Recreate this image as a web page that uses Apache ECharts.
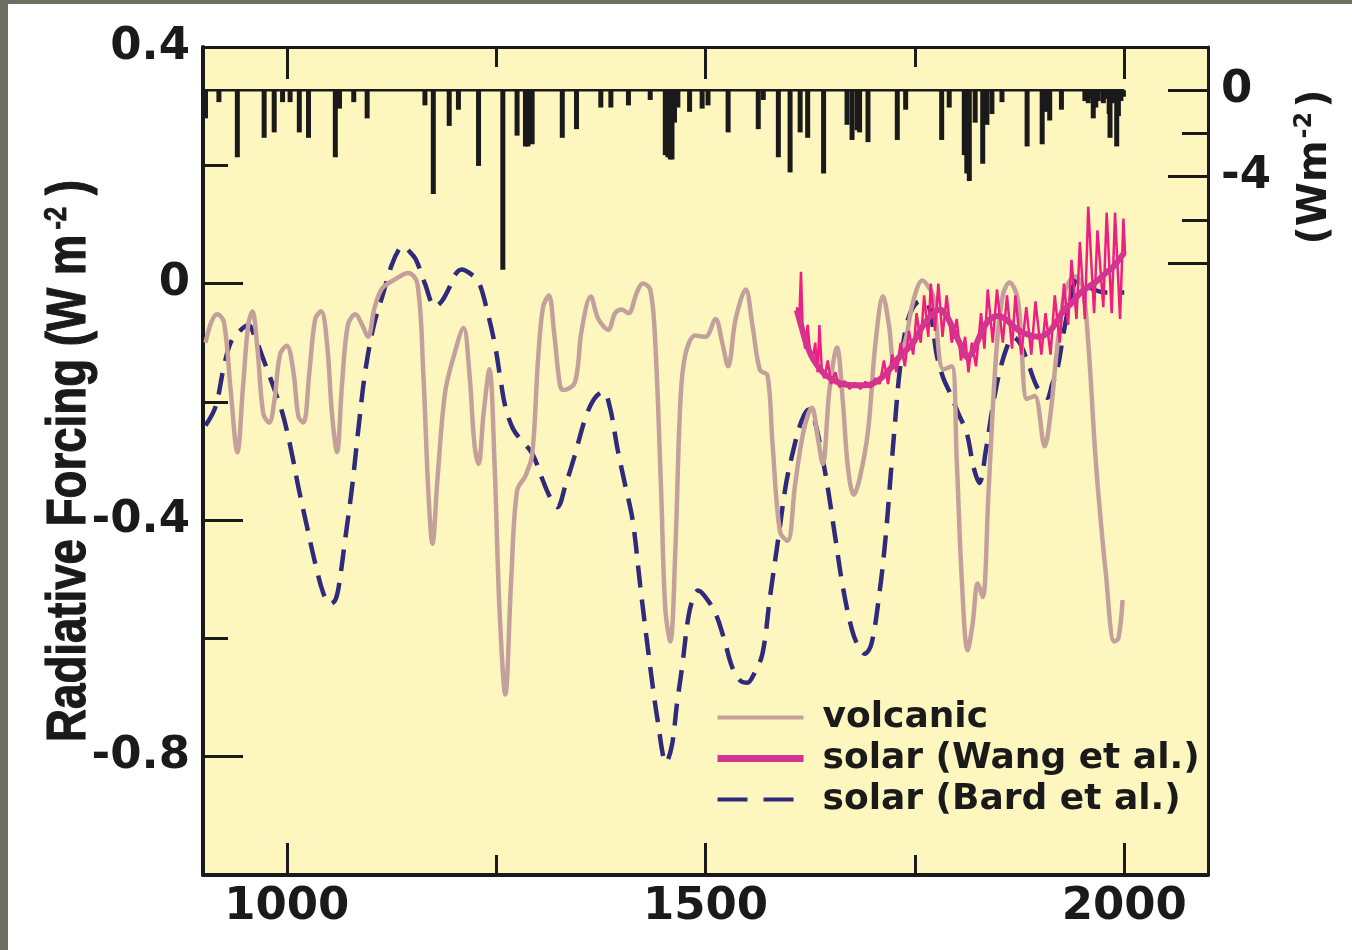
<!DOCTYPE html>
<html>
<head>
<meta charset="utf-8">
<script src="https://cdn.jsdelivr.net/npm/echarts@6/dist/echarts.min.js"></script>
<style>
  html, body { margin: 0; padding: 0; background: #ffffff; }
  #chart { position: absolute; left: 0; top: 0; width: 1352px; height: 950px; }
  #edgeL { position: absolute; left: 0; top: 0; width: 8px; height: 950px; background: #6f6f61; z-index: 5; }
  #edgeT { position: absolute; left: 0; top: 0; width: 1352px; height: 4px; background: #6f6f61; z-index: 5; }
</style>
</head>
<body>
<div id="chart"></div>
<div id="edgeL"></div>
<div id="edgeT"></div>
<script>
// ---------- data ----------
const xTickMajor = [1000, 1500, 2000];
const xTickMinor = [1250, 1750];
const yLeftMajor = [0.4, 0, -0.4, -0.8];
const yLeftMinor = [0.2, -0.2, -0.6];
const yRightMajor = [0, -4, -8];
const yRightMinor = [-2, -6];
const yRightLabels = [0, -4];

// volcanic forcing spikes (right axis, W m-2): [year, value]
const volcanicSpikes = [
  [903,-1.3],[919,-0.55],[941,-3.1],[973,-2.2],[985,-1.95],[995,-0.55],[1004,-0.55],[1015,-1.95],
  [1026,-2.2],[1058,-3.1],[1063,-0.85],[1080,-0.55],[1096,-1.3],[1165,-0.7],[1175,-4.8],[1194,-1.65],
  [1205,-0.9],[1229,-3.5],[1258,-8.3],[1275,-2.1],[1285,-2.6],[1288,-2.6],[1293,-2.5],[1329,-2.2],
  [1346,-1.8],[1375,-0.8],[1387,-0.8],[1408,-0.7],[1434,-0.45],[1452,-3.0],[1455,-3.1],[1458,-3.2],
  [1460,-3.2],[1463,-1.5],[1467,-0.8],[1481,-1.0],[1496,-0.85],[1503,-0.7],[1527,-1.95],[1563,-1.8],
  [1569,-0.45],[1587,-3.1],[1601,-3.8],[1613,-1.95],[1622,-2.2],[1641,-3.85],[1669,-1.6],[1675,-2.3],
  [1681,-1.85],[1684,-1.95],[1694,-2.4],[1729,-2.3],[1739,-0.9],[1782,-2.3],[1791,-0.8],[1809,-3.0],
  [1812,-3.85],[1815,-4.2],[1822,-1.5],[1831,-3.4],[1836,-1.6],[1842,-1.1],[1854,-0.55],[1884,-2.6],
  [1902,-2.5],[1907,-1.0],[1911,-1.4],[1925,-0.9],[1953,-0.5],[1957,-0.6],[1960,-0.4],[1963,-1.3],
  [1966,-0.8],[1969,-0.5],[1975,-0.6],[1978,-0.4],[1982,-1.1],[1983,-2.2],[1986,-0.6],[1991,-2.6],
  [1993,-1.2],[1996,-0.5],[1999,-0.3]
];
const volcanicBaseline = [[900, 0], [2000, 0]];

// smoothed volcanic forcing (left axis)
const volcanic = [
  [903,-0.10],[910,-0.065],[917,-0.052],[925,-0.065],[933,-0.18],[941,-0.285],[948,-0.17],[954,-0.07],
  [959,-0.047],[965,-0.11],[972,-0.22],[979,-0.235],[985,-0.20],[992,-0.12],[1000,-0.105],[1008,-0.15],
  [1014,-0.225],[1020,-0.235],[1027,-0.15],[1034,-0.06],[1041,-0.047],[1048,-0.10],[1054,-0.22],[1060,-0.285],
  [1066,-0.17],[1073,-0.07],[1082,-0.052],[1090,-0.07],[1097,-0.09],[1105,-0.04],[1114,-0.008],[1129,0.007],
  [1145,0.018],[1156,0.0],[1163,-0.15],[1169,-0.35],[1174,-0.44],[1180,-0.33],[1189,-0.185],[1200,-0.12],
  [1211,-0.075],[1218,-0.15],[1224,-0.27],[1229,-0.305],[1235,-0.22],[1242,-0.145],[1248,-0.30],[1254,-0.55],
  [1261,-0.695],[1268,-0.50],[1275,-0.35],[1285,-0.325],[1293,-0.29],[1300,-0.13],[1306,-0.04],[1313,-0.02],
  [1319,-0.08],[1326,-0.17],[1330,-0.18],[1344,-0.167],[1352,-0.08],[1363,-0.022],[1372,-0.06],[1384,-0.078],
  [1392,-0.05],[1400,-0.044],[1408,-0.05],[1418,-0.015],[1425,0.0],[1434,-0.01],[1440,-0.10],[1447,-0.35],
  [1452,-0.55],[1458,-0.605],[1464,-0.45],[1470,-0.20],[1476,-0.12],[1488,-0.088],[1500,-0.09],[1512,-0.06],
  [1520,-0.10],[1527,-0.14],[1536,-0.06],[1548,-0.01],[1556,-0.07],[1565,-0.146],[1574,-0.155],[1580,-0.27],
  [1589,-0.42],[1598,-0.435],[1607,-0.34],[1617,-0.25],[1627,-0.21],[1634,-0.26],[1640,-0.305],[1648,-0.18],
  [1657,-0.108],[1664,-0.20],[1670,-0.31],[1677,-0.357],[1684,-0.33],[1694,-0.25],[1703,-0.10],[1712,-0.022],
  [1719,-0.07],[1726,-0.14],[1738,-0.10],[1748,-0.03],[1759,0.005],[1766,-0.005],[1772,-0.022],[1784,-0.145],
  [1794,-0.14],[1800,-0.30],[1806,-0.50],[1813,-0.62],[1819,-0.575],[1825,-0.507],[1831,-0.53],[1838,-0.35],
  [1847,-0.12],[1855,-0.02],[1863,0.002],[1873,-0.027],[1884,-0.195],[1893,-0.19],[1905,-0.275],[1912,-0.22],
  [1919,-0.12],[1928,-0.02],[1935,0.005],[1941,0.012],[1950,-0.005],[1957,-0.10],[1965,-0.28],[1970,-0.37],
  [1978,-0.49],[1988,-0.605],[1993,-0.60],[1998,-0.535]
];

// solar forcing, Bard et al. (left axis)
const solarBard = [
  [903,-0.24],[915,-0.208],[925,-0.14],[933,-0.10],[942,-0.083],[954,-0.07],[962,-0.09],[971,-0.124],
  [983,-0.17],[995,-0.22],[1005,-0.28],[1014,-0.345],[1024,-0.41],[1034,-0.473],[1044,-0.525],[1052,-0.542],
  [1058,-0.535],[1062,-0.513],[1070,-0.43],[1078,-0.344],[1086,-0.24],[1094,-0.146],[1104,-0.07],[1114,-0.022],
  [1125,0.03],[1134,0.058],[1139,0.063],[1146,0.055],[1154,0.041],[1165,0.0],[1177,-0.039],[1185,-0.03],
  [1193,-0.01],[1201,0.015],[1209,0.024],[1218,0.018],[1229,0.003],[1240,-0.05],[1249,-0.107],[1255,-0.16],
  [1261,-0.208],[1270,-0.245],[1280,-0.265],[1293,-0.287],[1305,-0.33],[1314,-0.36],[1323,-0.378],[1333,-0.34],
  [1344,-0.29],[1356,-0.23],[1367,-0.195],[1378,-0.183],[1386,-0.21],[1395,-0.28],[1404,-0.34],[1413,-0.40],
  [1422,-0.51],[1432,-0.626],[1443,-0.74],[1453,-0.81],[1460,-0.78],[1466,-0.71],[1472,-0.649],[1480,-0.56],
  [1487,-0.525],[1491,-0.519],[1500,-0.53],[1512,-0.558],[1522,-0.60],[1532,-0.649],[1542,-0.672],[1550,-0.675],
  [1558,-0.66],[1568,-0.626],[1577,-0.53],[1587,-0.43],[1596,-0.34],[1604,-0.287],[1614,-0.235],[1623,-0.213],
  [1630,-0.23],[1643,-0.32],[1655,-0.43],[1664,-0.513],[1675,-0.586],[1683,-0.615],[1690,-0.626],[1698,-0.61],
  [1708,-0.52],[1715,-0.43],[1720,-0.344],[1726,-0.24],[1732,-0.146],[1740,-0.07],[1748,-0.04],[1756,-0.03],
  [1764,-0.032],[1770,-0.06],[1776,-0.12],[1784,-0.16],[1792,-0.185],[1802,-0.22],[1812,-0.253],[1820,-0.31],
  [1827,-0.337],[1835,-0.28],[1843,-0.208],[1851,-0.15],[1860,-0.107],[1867,-0.09],[1875,-0.10],[1884,-0.13],
  [1896,-0.175],[1908,-0.193],[1914,-0.17],[1920,-0.146],[1928,-0.08],[1935,-0.032],[1944,0.007],[1953,0.0],
  [1963,-0.01],[1979,-0.015],[2000,-0.015]
];

// solar forcing, Wang et al. – smoothed (thick) and annual (thin)
const solarWang = [
  [1609,-0.045],[1615,-0.075],[1620,-0.10],[1629,-0.129],[1640,-0.150],[1649,-0.160],[1660,-0.168],[1669,-0.171],
  [1683,-0.172],[1696,-0.171],[1705,-0.165],[1712,-0.157],[1720,-0.145],[1729,-0.128],[1738,-0.115],[1748,-0.10],
  [1758,-0.075],[1768,-0.056],[1780,-0.044],[1788,-0.055],[1796,-0.078],[1805,-0.105],[1812,-0.124],[1818,-0.118],
  [1824,-0.10],[1831,-0.078],[1839,-0.061],[1850,-0.055],[1860,-0.062],[1870,-0.075],[1879,-0.083],[1889,-0.088],
  [1899,-0.09],[1910,-0.082],[1919,-0.065],[1928,-0.045],[1938,-0.032],[1948,-0.015],[1958,-0.005],[1968,0.005],
  [1979,0.019],[1988,0.03],[1994,0.041],[2000,0.052]
];
const solarWangAnnual = [
  [1609,-0.04],[1612,-0.06],[1614,0.02],[1616,-0.08],[1619,-0.11],[1622,-0.07],[1625,-0.12],[1628,-0.13],
  [1631,-0.10],[1634,-0.15],[1636,-0.07],[1639,-0.15],[1642,-0.16],[1646,-0.13],[1650,-0.17],[1655,-0.15],
  [1660,-0.175],[1666,-0.165],[1672,-0.178],[1678,-0.168],[1685,-0.178],[1691,-0.166],[1697,-0.176],[1703,-0.16],
  [1708,-0.17],[1713,-0.13],[1718,-0.17],[1723,-0.12],[1728,-0.15],[1733,-0.10],[1738,-0.14],[1743,-0.08],
  [1748,-0.12],[1752,-0.05],[1757,-0.10],[1761,-0.02],[1766,-0.09],[1769,0.00],[1774,-0.08],[1778,0.00],
  [1783,-0.09],[1788,-0.02],[1794,-0.10],[1800,-0.06],[1805,-0.13],[1810,-0.09],[1814,-0.15],[1818,-0.10],
  [1823,-0.14],[1829,-0.05],[1833,-0.11],[1837,-0.01],[1843,-0.10],[1848,-0.01],[1855,-0.10],[1860,-0.02],
  [1866,-0.11],[1870,-0.02],[1877,-0.12],[1883,-0.04],[1889,-0.12],[1894,-0.03],[1901,-0.12],[1906,-0.05],
  [1912,-0.12],[1917,-0.02],[1923,-0.10],[1928,0.00],[1933,-0.07],[1937,0.04],[1943,-0.06],[1947,0.07],
  [1953,-0.06],[1957,0.13],[1964,-0.05],[1968,0.09],[1975,-0.04],[1979,0.12],[1985,-0.05],[1989,0.12],
  [1995,-0.06],[1999,0.11],[2001,0.05]
];

// ---------- styling ----------
const INK = '#1a1a1a';
const FONT = '"DejaVu Sans", sans-serif';
const TITLEFONT = '"Liberation Sans", Arial, sans-serif';
const tickStyle = { color: INK, width: 3 };
const C_VOLC = '#c4a09c', C_WANG = '#d4338f', C_WANG_RAW = '#ee1f82', C_BARD = '#2f2a7c';

function xAx(pos, ticks, len, line, labels) {
  return {
    type: 'value', position: pos, min: 900, max: 2100, gridIndex: 0,
    axisLine: { show: !!line, onZero: false, lineStyle: { color: INK, width: line || 1 } },
    axisTick: { show: true, inside: true, length: len, customValues: ticks, lineStyle: tickStyle },
    axisLabel: labels ? { show: true, customValues: labels, margin: 10, color: INK,
      fontFamily: FONT, fontWeight: 'bold', fontSize: 45, formatter: v => String(v) } : { show: false },
    splitLine: { show: false }
  };
}
function yAx(pos, min, max, ticks, len, line, labels) {
  return {
    type: 'value', position: pos, min: min, max: max, gridIndex: 0,
    axisLine: { show: !!line, onZero: false, lineStyle: { color: INK, width: line || 1 } },
    axisTick: { show: true, inside: true, length: len, customValues: ticks, lineStyle: tickStyle },
    axisLabel: labels ? { show: true, customValues: labels, color: INK, fontFamily: FONT, fontWeight: 'bold',
      fontSize: 45, margin: 13, formatter: v => (v === 0 ? '0' : String(v)) } : { show: false },
    splitLine: { show: false }
  };
}

const chart = echarts.init(document.getElementById('chart'), null, { renderer: 'canvas' });
const option = {
  animation: false,
  backgroundColor: 'transparent',
  grid: { left: 203, right: 144, top: 47, bottom: 75, show: true, backgroundColor: '#fef6bf', borderWidth: 0 },
  xAxis: [
    xAx('bottom', xTickMajor, 32, 4, xTickMajor),
    xAx('bottom', xTickMinor, 20, 0, null),
    xAx('top', xTickMajor, 32, 3, null),
    xAx('top', xTickMinor, 20, 0, null)
  ],
  yAxis: [
    yAx('left', -1, 0.4, yLeftMajor, 40, 4, yLeftMajor),
    yAx('left', -1, 0.4, yLeftMinor, 25, 0, null),
    yAx('right', -36.3, 2, yRightMajor, 40, 3, yRightLabels),
    yAx('right', -36.3, 2, yRightMinor, 26, 0, null)
  ],
  legend: {
    show: true, orient: 'vertical', left: 709, top: 692,
    itemWidth: 86, itemHeight: 14, itemGap: 0,
    itemStyle: { opacity: 0 },
    data: [
      { name: 'volcanic', lineStyle: { width: 4, color: C_VOLC } },
      { name: 'solar (Wang et al.)', lineStyle: { width: 7, color: C_WANG } },
      { name: 'solar (Bard et al.)', lineStyle: { width: 4, color: C_BARD, type: [30, 16] } }
    ],
    textStyle: { fontFamily: FONT, fontWeight: 'bold', fontSize: 36, color: INK, lineHeight: 41, padding: [0, 0, 0, 14] }
  },
  graphic: [
    {
      type: 'text', x: 70, y: 461, rotation: Math.PI / 2, scaleX: 0.815,
      style: {
        text: '{t|Radiative Forcing (W m}{s|-2}{t|)}', align: 'center', verticalAlign: 'middle',
        rich: {
          t: { fontFamily: TITLEFONT, fontWeight: 'bold', fontSize: 56, fill: INK, lineHeight: 58,
               stroke: INK, lineWidth: 1.2 },
          s: { fontFamily: TITLEFONT, fontWeight: 'bold', fontSize: 32, fill: INK, verticalAlign: 'top',
               padding: [0, 14, 0, 6], stroke: INK, lineWidth: 0.8 }
        }
      }
    },
    {
      type: 'text', x: 1316, y: 167, rotation: Math.PI / 2,
      style: {
        text: '{t|(Wm}{s|-2}{t|)}', align: 'center', verticalAlign: 'middle',
        rich: {
          t: { fontFamily: FONT, fontWeight: 'bold', fontSize: 40, fill: INK, lineHeight: 46 },
          s: { fontFamily: FONT, fontWeight: 'bold', fontSize: 24, fill: INK, verticalAlign: 'top', padding: [0, 4, 0, 2] }
        }
      }
    }
  ],
  series: [
    {
      name: 'volcanic forcing', type: 'bar', xAxisIndex: 0, yAxisIndex: 2,
      data: volcanicSpikes, barWidth: 5, itemStyle: { color: INK }, silent: true
    },
    {
      name: 'baseline', type: 'line', xAxisIndex: 0, yAxisIndex: 2, data: volcanicBaseline,
      symbol: 'none', lineStyle: { color: INK, width: 2.5 }, silent: true
    },
    {
      name: 'solar (Bard et al.)', type: 'line', xAxisIndex: 0, yAxisIndex: 0, data: solarBard,
      symbol: 'none', smooth: 0.35, lineStyle: { color: C_BARD, width: 4.5, type: [22, 12] }, itemStyle: { color: C_BARD }
    },
    {
      name: 'volcanic', type: 'line', xAxisIndex: 0, yAxisIndex: 0, data: volcanic,
      symbol: 'none', smooth: 0.35, lineStyle: { color: C_VOLC, width: 4.5 }, itemStyle: { color: C_VOLC }
    },
    {
      name: 'wang annual', type: 'line', xAxisIndex: 0, yAxisIndex: 0, data: solarWangAnnual,
      symbol: 'none', smooth: false, lineStyle: { color: C_WANG_RAW, width: 2.5 }, itemStyle: { color: C_WANG_RAW }
    },
    {
      name: 'solar (Wang et al.)', type: 'line', xAxisIndex: 0, yAxisIndex: 0, data: solarWang,
      symbol: 'none', smooth: 0.35, lineStyle: { color: C_WANG, width: 6 }, itemStyle: { color: C_WANG }
    }
  ]
};
chart.setOption(option);
</script>
</body>
</html>
